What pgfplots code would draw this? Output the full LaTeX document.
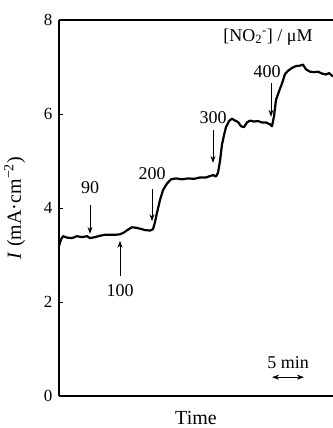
\documentclass[border=0pt]{standalone}
\usepackage{fontspec}
\setmainfont{Liberation Serif}
\usepackage{pgfplots}
\pgfplotsset{compat=1.18}
\usetikzlibrary{arrows.meta}
\begin{document}
\begin{tikzpicture}
\path[use as bounding box] (0,0) rectangle (333bp,428bp);
\begin{axis}[
  at={(59bp,32bp)}, anchor=origin,
  scale only axis, width=274bp, height=376bp,
  xmin=0, xmax=274, ymin=0, ymax=8,
  axis x line*=bottom, axis y line*=left,
  axis line style={line width=1.3pt,-},
  xtick=\empty, ytick={0,2,4,6,8},
  tick align=inside, major tick length=4bp,
  tick style={line width=0.9pt,black},
  /pgf/number format/assume math mode=true,
  yticklabel style={font=\fontsize{17bp}{19bp}\selectfont, xshift=-3bp},
  xlabel={Time}, ylabel={\textit{I} (mA·cm\textsuperscript{−2})},
  label style={font=\fontsize{20bp}{22bp}\selectfont},
  xlabel style={yshift=-12bp},
  ylabel style={yshift=12bp},
  clip=false,
]
\addplot[black, line width=2.2pt, line join=round] coordinates {
(0,3.19)(2,3.33)(4,3.40)(8,3.37)(13,3.36)(18,3.40)(23,3.38)(28,3.40)(31,3.36)
(36,3.38)(41,3.41)(46,3.43)(51,3.43)(56,3.43)(61,3.44)(65,3.48)(69,3.54)(73,3.59)
(77,3.58)(81,3.56)(86,3.53)(91,3.52)(94,3.55)(96,3.70)(98,3.90)(101,4.17)(104,4.38)
(108,4.52)(112,4.61)(117,4.63)(123,4.61)(129,4.63)(135,4.62)(141,4.65)(147,4.65)
(151,4.68)(154,4.70)(157,4.67)(159,4.75)(161,5.00)(163,5.35)(165,5.55)(167,5.72)
(170,5.85)(173,5.90)(176,5.86)(179,5.83)(182,5.74)(185,5.72)(188,5.82)(191,5.86)
(195,5.84)(199,5.85)(203,5.82)(207,5.82)(211,5.78)(213,5.74)(215,5.95)(217,6.30)
(220,6.48)(223,6.65)(226,6.85)(229,6.92)(233,6.98)(237,7.02)(241,7.03)(244,7.05)
(247,6.95)(251,6.90)(255,6.89)(259,6.90)(263,6.86)(267,6.84)(270,6.87)(274,6.80)
};
\draw[line width=1.3pt] (axis cs:0,8) -- (axis cs:274,8);
\tikzset{ann/.style={font=\fontsize{18bp}{20bp}\selectfont},
         arr/.style={line width=0.9pt,-{Stealth[length=7bp,width=5bp]}}}
\draw[arr] (axis cs:31,4.06) -- (axis cs:31,3.45);
\node[ann] at (axis cs:31,4.43) {90};
\draw[arr] (axis cs:61,2.55) -- (axis cs:61,3.30);
\node[ann] at (axis cs:61,2.25) {100};
\draw[arr] (axis cs:93,4.40) -- (axis cs:93,3.72);
\node[ann] at (axis cs:93,4.74) {200};
\draw[arr] (axis cs:154,5.66) -- (axis cs:154,4.96);
\node[ann] at (axis cs:154,5.92) {300};
\draw[arr] (axis cs:212,6.66) -- (axis cs:212,5.94);
\node[ann] at (axis cs:208,6.91) {400};
\node[ann] at (axis cs:209,7.64) {[NO\textsubscript{2}\textsuperscript{-}] / μM};
\node[ann] at (axis cs:229,0.72) {5 min};
\draw[line width=0.9pt,{Stealth[length=7bp,width=5bp]}-{Stealth[length=7bp,width=5bp]}] (axis cs:213,0.40) -- (axis cs:245,0.40);
\end{axis}
\end{tikzpicture}
\end{document}
